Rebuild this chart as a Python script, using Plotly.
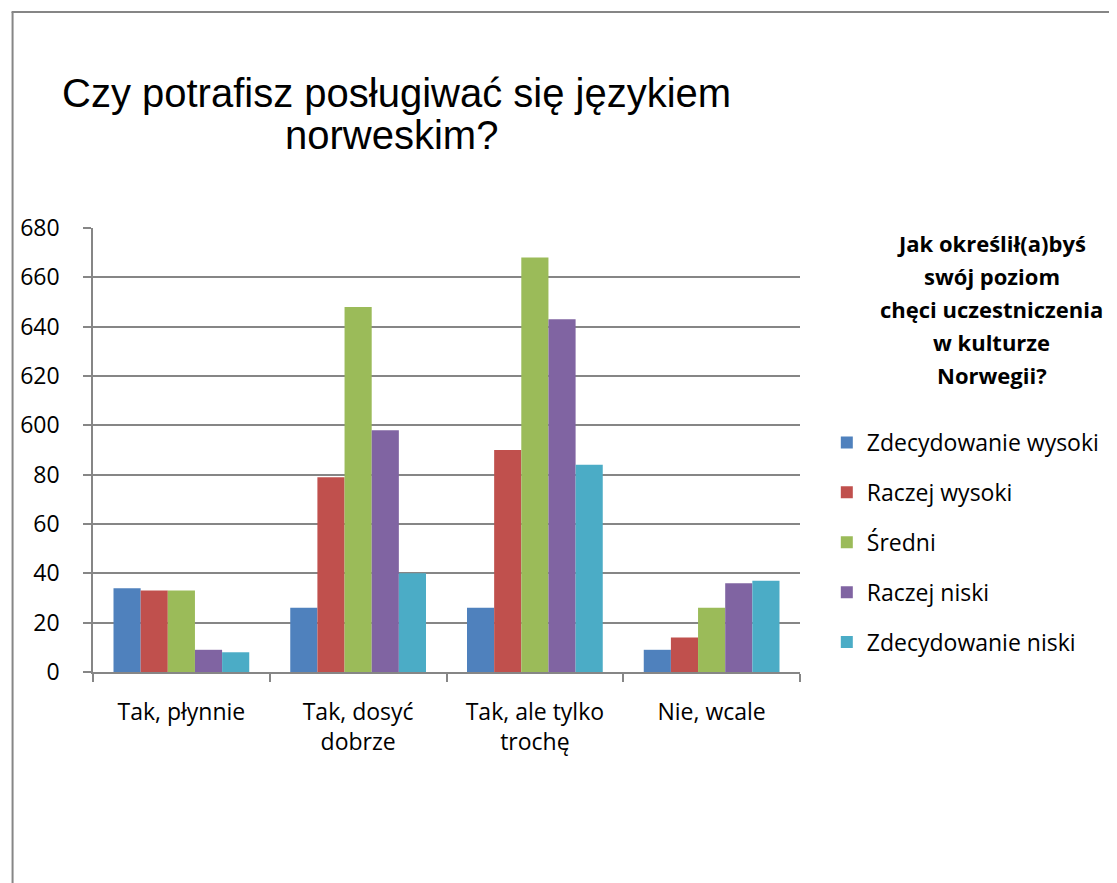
import plotly.graph_objects as go

categories = ["Tak, płynnie", "Tak, dosyć<br>dobrze", "Tak, ale tylko<br>trochę", "Nie, wcale"]
series_names = ["Zdecydowanie wysoki", "Raczej wysoki", "Średni", "Raczej niski", "Zdecydowanie niski"]
zdecydowanie_wysoki = [34, 26, 26, 9]
raczej_wysoki = [33, 79, 90, 14]
sredni = [33, 148, 168, 26]
raczej_niski = [9, 98, 143, 36]
zdecydowanie_niski = [8, 40, 84, 37]
tick_values = [0, 20, 40, 60, 80, 100, 120, 140, 160, 180]
tick_labels = ["0", "20", "40", "60", "80", "600", "620", "640", "660", "680"]

colors = ["#4F81BD", "#C0504D", "#9BBB59", "#8064A2", "#4BACC6"]
series_values = [zdecydowanie_wysoki, raczej_wysoki, sredni, raczej_niski, zdecydowanie_niski]

# page geometry (browser body adds an 8px offset)
OFF = 8
W, H = 1117, 883
L, R, T, B = 90, 802, 228, 672   # plot area in page pixels
FW, FH = W - OFF, H - OFF

fig = go.Figure()
for name, vals, col in zip(series_names, series_values, colors):
    fig.add_trace(go.Bar(
        x=categories, y=vals, name=name, legendgroup=name,
        marker=dict(color=col, line=dict(width=0)),
    ))

body_font = "Open Sans, Lato, sans-serif"

def px_to_paper_x(px):
    return (px - L) / (R - L)

def px_to_paper_y(py):
    return (B - py) / (B - T)

fig.update_layout(
    width=FW, height=FH,
    margin=dict(l=L - OFF, r=FW - (R - OFF), t=T - OFF, b=FH - (B - OFF), pad=0),
    paper_bgcolor="white", plot_bgcolor="white",
    barmode="group", bargap=0.232, bargroupgap=0,
    font=dict(family=body_font, size=23, color="#000000"),
    showlegend=True,
    legend=dict(
        x=px_to_paper_x(829), y=px_to_paper_y(421), xanchor="left", yanchor="top",
        font=dict(family=body_font, size=23, color="#000000"),
        tracegroupgap=17, itemwidth=30, bgcolor="rgba(0,0,0,0)",
    ),
    xaxis=dict(
        type="category", tickson="boundaries", ticks="outside", ticklen=8,
        tickcolor="#868686", tickwidth=1.5,
        showline=True, linecolor="#868686", linewidth=1.5,
        showgrid=False, ticklabelstandoff=19,
        tickfont=dict(family=body_font, size=23, color="#000000"),
        fixedrange=True,
    ),
    yaxis=dict(
        range=[0, 180], tickvals=tick_values, ticktext=tick_labels,
        ticks="outside", ticklen=8, tickcolor="#868686", tickwidth=1.5,
        showline=True, linecolor="#868686", linewidth=1.5,
        showgrid=True, gridcolor="#868686", gridwidth=1.5,
        zeroline=False, ticklabelstandoff=19,
        tickfont=dict(family=body_font, size=23, color="#000000"),
        fixedrange=True,
    ),
)

# chart title
title_font = dict(family="Liberation Sans, Arial, sans-serif", size=40, color="#000000")
fig.add_annotation(text="Czy potrafisz posługiwać się językiem", xref="paper", yref="paper",
                   x=px_to_paper_x(396), y=px_to_paper_y(93), xanchor="center", yanchor="middle",
                   showarrow=False, font=title_font)
fig.add_annotation(text="norweskim?", xref="paper", yref="paper",
                   x=px_to_paper_x(391), y=px_to_paper_y(135), xanchor="center", yanchor="middle",
                   showarrow=False, font=title_font)

# legend title
legend_title = ["Jak określił(a)byś", "swój poziom", "chęci uczestniczenia", "w kulturze", "Norwegii?"]
for i, line in enumerate(legend_title):
    fig.add_annotation(text="<b>" + line + "</b>", xref="paper", yref="paper",
                       x=px_to_paper_x(995), y=px_to_paper_y(243 + 33 * i),
                       xanchor="center", yanchor="middle", showarrow=False,
                       font=dict(family=body_font, size=22, color="#000000"))

# outer frame (left and top edges)
fig.add_shape(type="line", xref="paper", yref="paper",
              x0=px_to_paper_x(9), x1=px_to_paper_x(9), y0=px_to_paper_y(12), y1=px_to_paper_y(H + 2),
              line=dict(color="#868686", width=2))
fig.add_shape(type="line", xref="paper", yref="paper",
              x0=px_to_paper_x(8), x1=px_to_paper_x(W + 2), y0=px_to_paper_y(12), y1=px_to_paper_y(12),
              line=dict(color="#868686", width=2))

fig.write_html("out.html")
